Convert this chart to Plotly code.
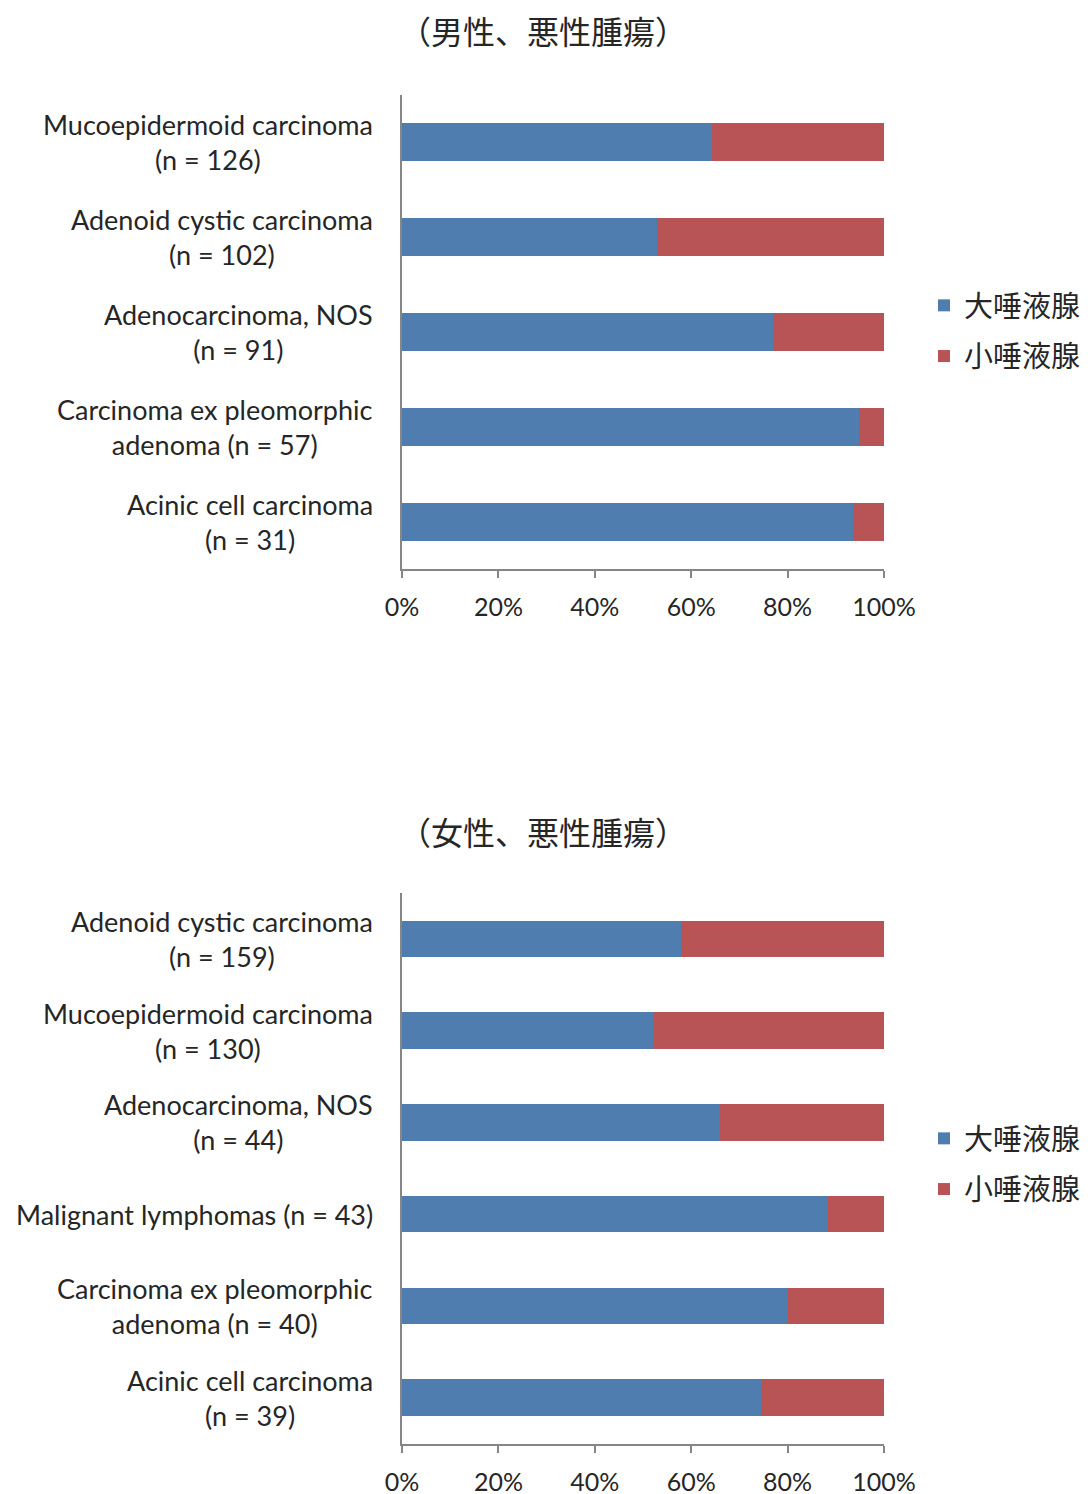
import plotly.graph_objects as go

# ---------------- data ----------------
series_names = ["大唾液腺", "小唾液腺"]

male_title = "（男性、悪性腫瘍）"
male_categories = [
    "Mucoepidermoid carcinoma<br>(n = 126)",
    "Adenoid cystic carcinoma<br>(n = 102)",
    "Adenocarcinoma, NOS<br>(n = 91)",
    "Carcinoma ex pleomorphic<br>adenoma (n = 57)",
    "Acinic cell carcinoma<br>(n = 31)",
]
male_major = [64.3, 52.9, 77.0, 94.8, 93.6]
male_minor = [35.7, 47.1, 23.0, 5.2, 6.4]

female_title = "（女性、悪性腫瘍）"
female_categories = [
    "Adenoid cystic carcinoma<br>(n = 159)",
    "Mucoepidermoid carcinoma<br>(n = 130)",
    "Adenocarcinoma, NOS<br>(n = 44)",
    "Malignant lymphomas (n = 43)",
    "Carcinoma ex pleomorphic<br>adenoma (n = 40)",
    "Acinic cell carcinoma<br>(n = 39)",
]
female_major = [57.9, 52.3, 65.9, 88.4, 80.0, 74.4]
female_minor = [42.1, 47.7, 34.1, 11.6, 20.0, 25.6]

x_ticks = [0, 20, 40, 60, 80, 100]
x_ticklabels = ["0%", "20%", "40%", "60%", "80%", "100%"]

# ---------------- style ----------------
W, H = 1088, 1494
OFF = 8  # page body margin offset
BLUE = "#4F7DB0"
RED = "#B85456"
TXT = "#262626"
AXC = "#868686"
LATIN = "Lato, 'Noto Sans CJK JP', sans-serif"
CJK = "'Noto Sans CJK JP', sans-serif"
colors = [BLUE, RED]

fig = go.Figure()

panels = [
    (male_categories, [male_major, male_minor], "x", "y", "legend"),
    (female_categories, [female_major, female_minor], "x2", "y2", "legend2"),
]
for cats, vals, xa, ya, lg in panels:
    for i, (name, v) in enumerate(zip(series_names, vals)):
        fig.add_trace(go.Bar(
            y=cats, x=v, name=name, orientation="h",
            marker=dict(color=colors[i], line=dict(width=0)),
            xaxis=xa, yaxis=ya, legend=lg, legendgroup=f"{lg}_{i}",
            hoverinfo="name+x",
        ))

def px_y(p):
    return 1 - (p - OFF) / H

def px_x(p):
    return (p - OFF) / W

xdom = [px_x(402), px_x(884)]
axis_common = dict(
    range=[0, 100], tickvals=x_ticks, ticktext=x_ticklabels,
    showline=True, linecolor=AXC, linewidth=2,
    ticks="outside", ticklen=7, tickwidth=2, tickcolor=AXC,
    ticklabelstandoff=8,
    showgrid=False, zeroline=False, fixedrange=True,
    tickfont=dict(family=LATIN, size=25, color=TXT),
)
yaxis_common = dict(
    type="category", autorange="reversed", showline=True, linecolor=AXC, linewidth=2,
    ticks="", showticklabels=False, showgrid=False, zeroline=False, fixedrange=True,
)

legend_common = dict(
    xanchor="left", yanchor="middle",
    font=dict(family=CJK, size=29, color=TXT), traceorder="grouped",
    tracegroupgap=10, bgcolor="rgba(0,0,0,0)", borderwidth=0,
)

fig.update_layout(
    width=W, height=H, margin=dict(l=0, r=0, t=0, b=0, autoexpand=False),
    paper_bgcolor="white", plot_bgcolor="white",
    barmode="stack", bargap=0.6,
    xaxis=dict(domain=xdom, anchor="y", **axis_common),
    yaxis=dict(domain=[px_y(569), px_y(95)], anchor="x", **yaxis_common),
    xaxis2=dict(domain=xdom, anchor="y2", **axis_common),
    yaxis2=dict(domain=[px_y(1443.5), px_y(893)], anchor="x2", **yaxis_common),
    legend=dict(x=px_x(924), y=px_y(331), **legend_common),
    legend2=dict(x=px_x(924), y=px_y(1164), **legend_common),
    showlegend=True,
)

annotations = [
    dict(text=male_title, x=px_x(543), y=px_y(30), xref="paper", yref="paper",
         xanchor="center", yanchor="middle", showarrow=False, borderpad=0,
         font=dict(family=CJK, size=32, color=TXT)),
    dict(text=female_title, x=px_x(543), y=px_y(831), xref="paper", yref="paper",
         xanchor="center", yanchor="middle", showarrow=False, borderpad=0,
         font=dict(family=CJK, size=32, color=TXT)),
]
for cats, yref in [(male_categories, "y"), (female_categories, "y2")]:
    for c in cats:
        annotations.append(dict(
            text=c, x=px_x(375), y=c, xref="paper", yref=yref,
            xanchor="right", yanchor="middle", align="center", showarrow=False,
            font=dict(family=LATIN, size=27, color=TXT),
        ))
fig.update_layout(annotations=annotations)

fig.write_html("out.html")
